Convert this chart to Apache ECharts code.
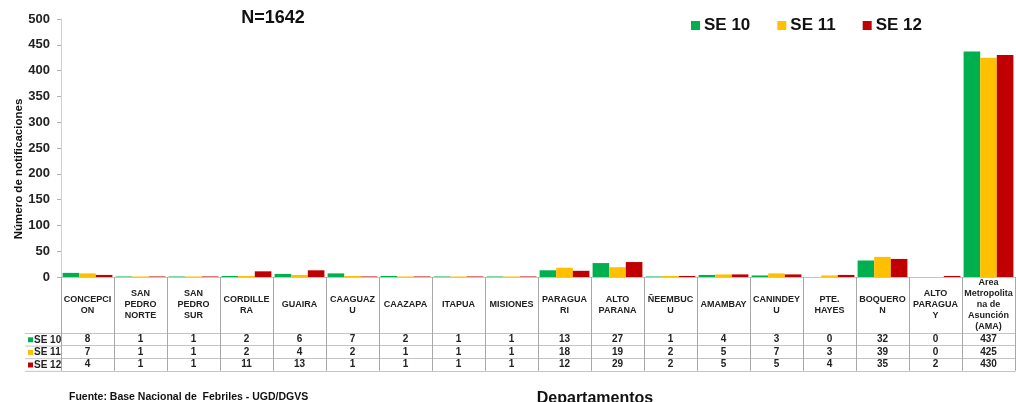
<!DOCTYPE html>
<html>
<head>
<meta charset="utf-8">
<script src="https://cdn.jsdelivr.net/npm/echarts@6/dist/echarts.min.js"></script>
<style>
  html, body { margin: 0; padding: 0; background: #fff; }
  #chart { width: 1016px; height: 402px; }
</style>
</head>
<body>
<div id="chart"></div>
<script>
// Departamentos (con saltos de línea tal como se muestran en la tabla)
const categories = [
  'CONCEPCI\nON', 'SAN\nPEDRO\nNORTE', 'SAN\nPEDRO\nSUR', 'CORDILLE\nRA', 'GUAIRA',
  'CAAGUAZ\nU', 'CAAZAPA', 'ITAPUA', 'MISIONES', 'PARAGUA\nRI', 'ALTO\nPARANA',
  'ÑEEMBUC\nU', 'AMAMBAY', 'CANINDEY\nU', 'PTE.\nHAYES', 'BOQUERO\nN',
  'ALTO\nPARAGUA\nY', 'Area\nMetropolita\nna de\nAsunción\n(AMA)'
];
const seriesNames = ['SE 10', 'SE 11', 'SE 12'];
const se10 = [8, 1, 1, 2, 6, 7, 2, 1, 1, 13, 27, 1, 4, 3, 0, 32, 0, 437];
const se11 = [7, 1, 1, 2, 4, 2, 1, 1, 1, 18, 19, 2, 5, 7, 3, 39, 0, 425];
const se12 = [4, 1, 1, 11, 13, 1, 1, 1, 1, 12, 29, 2, 5, 5, 4, 35, 2, 430];
const yTicks = { min: 0, max: 500, interval: 50 };
const totalLabel = 'N=1642';
const xTitle = 'Departamentos';
const yTitle = 'Número de notificaciones';
const sourceNote = 'Fuente: Base Nacional de  Febriles - UGD/DGVS';

const colors = ['#00B050', '#FFC000', '#C00000'];
const FONT = '"Liberation Sans", Arial, sans-serif';
const rows = [se10, se11, se12];

const GRID_LEFT = 61, AXIS_Y = 277;
const ROW_TOP = 333, ROW_H = 12.6;

// Filas de la tabla de datos: un eje de categorías por semana, desplazado hacia abajo
const tableAxes = rows.map((vals, i) => ({
  type: 'category',
  data: vals.map(String),
  position: 'bottom',
  offset: (ROW_TOP - AXIS_Y) + i * ROW_H,
  axisLine: { show: true, lineStyle: { color: '#c4c4c4', width: 1 } },
  axisTick: { show: false },
  axisLabel: {
    interval: 0, margin: ROW_H / 2, verticalAlign: 'middle',
    fontFamily: FONT, fontWeight: 'bold', fontSize: 10, color: '#222'
  }
}));
// Línea de cierre inferior de la tabla
tableAxes.push({
  type: 'category',
  data: categories,
  position: 'bottom',
  offset: (ROW_TOP - AXIS_Y) + 3 * ROW_H,
  axisLine: { show: true, lineStyle: { color: '#c4c4c4', width: 1 } },
  axisTick: { show: false },
  axisLabel: { show: false }
});

// Cabecera izquierda de la tabla (clave de color + nombre de la serie)
const leftGraphics = [];
for (let i = 0; i <= 3; i++) {
  const y = ROW_TOP + i * ROW_H + 0.5;
  leftGraphics.push({
    type: 'line', shape: { x1: 25, y1: y, x2: GRID_LEFT, y2: y },
    style: { stroke: '#c4c4c4', lineWidth: 1 }, silent: true
  });
}
seriesNames.forEach((name, i) => {
  const cy = ROW_TOP + i * ROW_H + ROW_H / 2 + 0.5;
  leftGraphics.push({
    type: 'rect', shape: { x: 28, y: cy - 2.5, width: 5, height: 5 },
    style: { fill: colors[i] }, silent: true
  });
  leftGraphics.push({
    type: 'text', x: 34, y: cy,
    style: { text: name, font: 'bold 10px ' + FONT, fill: '#222', verticalAlign: 'middle', align: 'left' },
    silent: true
  });
});

const chart = echarts.init(document.getElementById('chart'), null, { renderer: 'canvas' });
chart.setOption({
  animation: false,
  color: colors,
  textStyle: { fontFamily: FONT },
  grid: { left: GRID_LEFT, right: 1, top: 19, bottom: 402 - AXIS_Y, containLabel: false },
  legend: {
    data: seriesNames,
    left: 686, top: 12,
    itemWidth: 9, itemHeight: 9, itemGap: 27,
    icon: 'rect',
    textStyle: { fontFamily: FONT, fontWeight: 'bold', fontSize: 17, color: '#111', padding: [0, 0, 0, -1] }
  },
  xAxis: [
    {
      type: 'category',
      data: categories,
      position: 'bottom',
      axisLine: { show: true, lineStyle: { color: '#c4c4c4', width: 1 } },
      axisTick: { show: true, interval: 0, length: (ROW_TOP - AXIS_Y) + 3 * ROW_H, lineStyle: { color: '#a8a8a8', width: 1 } },
      axisLabel: {
        interval: 0, margin: (ROW_TOP - AXIS_Y) / 2, verticalAlign: 'middle',
        fontFamily: FONT, fontWeight: 'bold', fontSize: 9, lineHeight: 11, color: '#222', align: 'center'
      }
    }
  ].concat(tableAxes),
  yAxis: {
    type: 'value',
    min: yTicks.min, max: yTicks.max, interval: yTicks.interval,
    axisLine: { show: true, lineStyle: { color: '#d0d0d0' } },
    axisTick: { show: true, length: 4, lineStyle: { color: '#b0b0b0' } },
    axisLabel: { margin: 11, fontFamily: FONT, fontWeight: 'bold', fontSize: 13, color: '#222' },
    splitLine: { show: false }
  },
  series: rows.map((vals, i) => ({
    name: seriesNames[i],
    type: 'bar',
    xAxisIndex: 0,
    data: vals,
    barGap: '0%',
    barCategoryGap: '6%',
    itemStyle: { color: colors[i] }
  })),
  graphic: [
    {
      type: 'text', x: 273, y: 18,
      style: { text: totalLabel, font: 'bold 18px ' + FONT, fill: '#111', align: 'center', verticalAlign: 'middle' }
    },
    {
      type: 'text', x: 19, y: 169, rotation: Math.PI / 2,
      style: { text: yTitle, font: 'bold 11.5px ' + FONT, fill: '#111', align: 'center', verticalAlign: 'middle' }
    },
    {
      type: 'text', x: 595, y: 399,
      style: { text: xTitle, font: 'bold 16px ' + FONT, fill: '#111', align: 'center', verticalAlign: 'middle' }
    },
    {
      type: 'text', x: 69, y: 397,
      style: { text: sourceNote, font: 'bold 10.5px ' + FONT, fill: '#111', align: 'left', verticalAlign: 'middle' }
    }
  ].concat(leftGraphics)
});
</script>
</body>
</html>
